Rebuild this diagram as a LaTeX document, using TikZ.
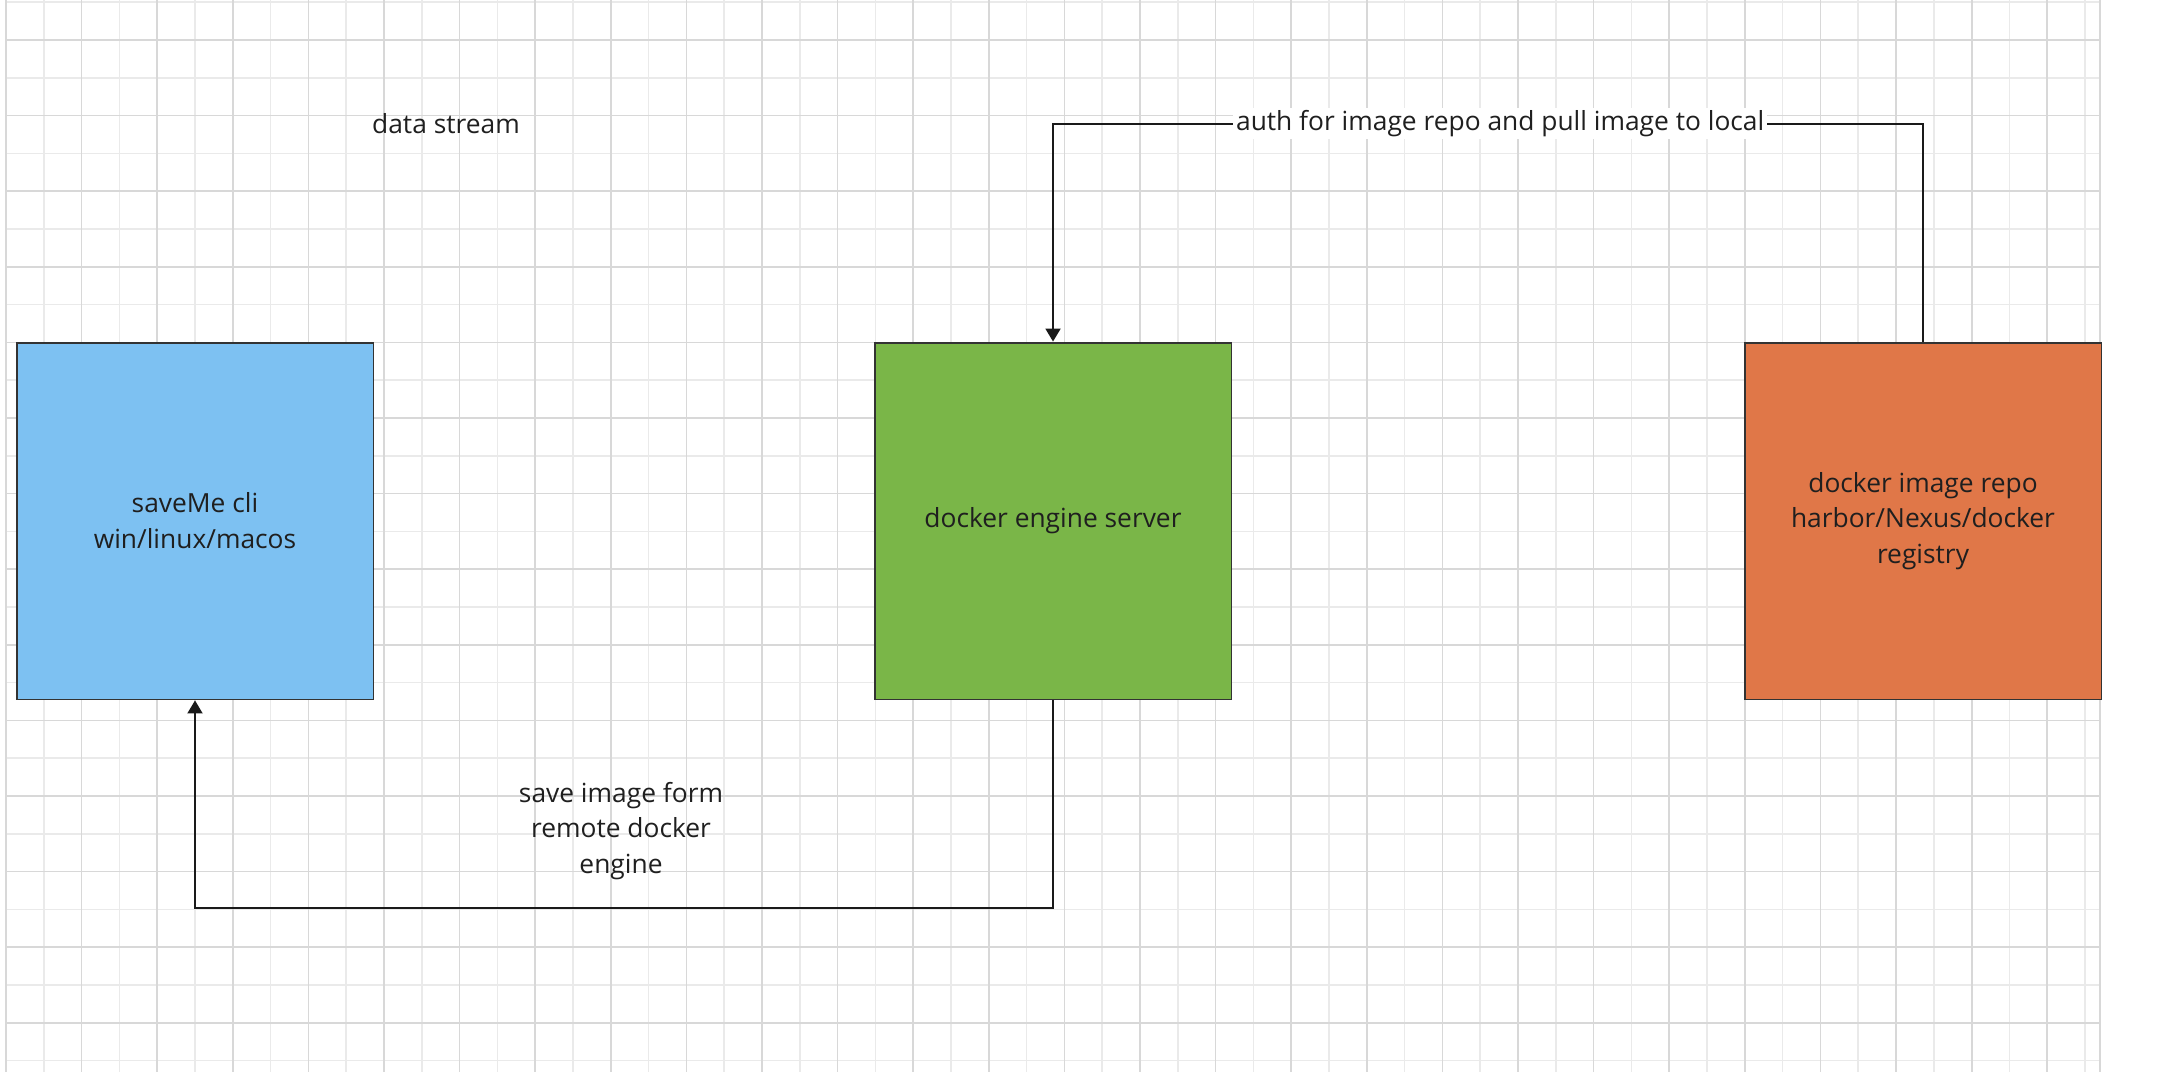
\documentclass[tikz,border=0pt]{standalone}
\usepackage{fontspec}
\setmainfont{Open Sans}
\usetikzlibrary{arrows.meta}

\definecolor{cliblue}{RGB}{125,193,242}
\definecolor{enginegreen}{RGB}{122,182,72}
\definecolor{repoorange}{RGB}{224,119,72}
\definecolor{boxline}{RGB}{51,51,51}
\definecolor{flowline}{RGB}{26,26,26}
\definecolor{minorgrid}{RGB}{234,234,234}
\definecolor{majorgrid}{RGB}{216,216,216}

\begin{document}
\begin{tikzpicture}[x=0.02cm, y=-0.02cm,
  every node/.style={font=\fontsize{15pt}{20.4pt}\selectfont, text=black!88},
  box/.style={draw=boxline, line width=1.1pt, minimum width=7.14cm,
    minimum height=7.14cm, align=center, inner sep=0pt},
  flow/.style={draw=flowline, line width=1.1pt,
    -{Triangle[length=0.26cm, width=0.3cm]}},
  minor/.style={draw=minorgrid, line width=1pt},
  major/.style={draw=majorgrid, line width=1pt}]
  \useasboundingbox (0, 0) rectangle (2164, 1072);

  % grid
  \foreach \y in {2.2, 77.8, ..., 1072} \draw[minor] (6, \y) -- (2100, \y);
  \foreach \x in {43.8, 119.4, ..., 2100} \draw[minor] (\x, 0) -- (\x, 1072);
  \foreach \y in {40, 115.6, ..., 1072} \draw[major] (6, \y) -- (2100, \y);
  \foreach \x in {6, 81.6, ..., 2100} \draw[major] (\x, 0) -- (\x, 1072);
  \draw[major] (2100, 0) -- (2100, 1072);

  \node (stream) at (446, 124) {data stream};

  \node[box, fill=cliblue] (cli) at (195, 521) {saveMe cli\\win/linux/macos};
  \node[box, fill=enginegreen] (engine) at (1053, 521) {docker engine server};
  \node[box, fill=repoorange] (repo) at (1923, 521)
    {docker image repo\\harbor/Nexus/docker\\registry};

  \draw[flow] (repo.north) -- ++(0, -218) -| (engine.north)
    node[pos=0.243, fill=white, inner sep=1.5pt] (pull)
    {auth for image repo and pull image to local};

  \draw[flow] (engine.south) -- ++(0, 208) -| (cli.south);
  \node[align=center] (save) at (621, 831)
    {save image form\\remote docker\\engine};
\end{tikzpicture}
\end{document}
